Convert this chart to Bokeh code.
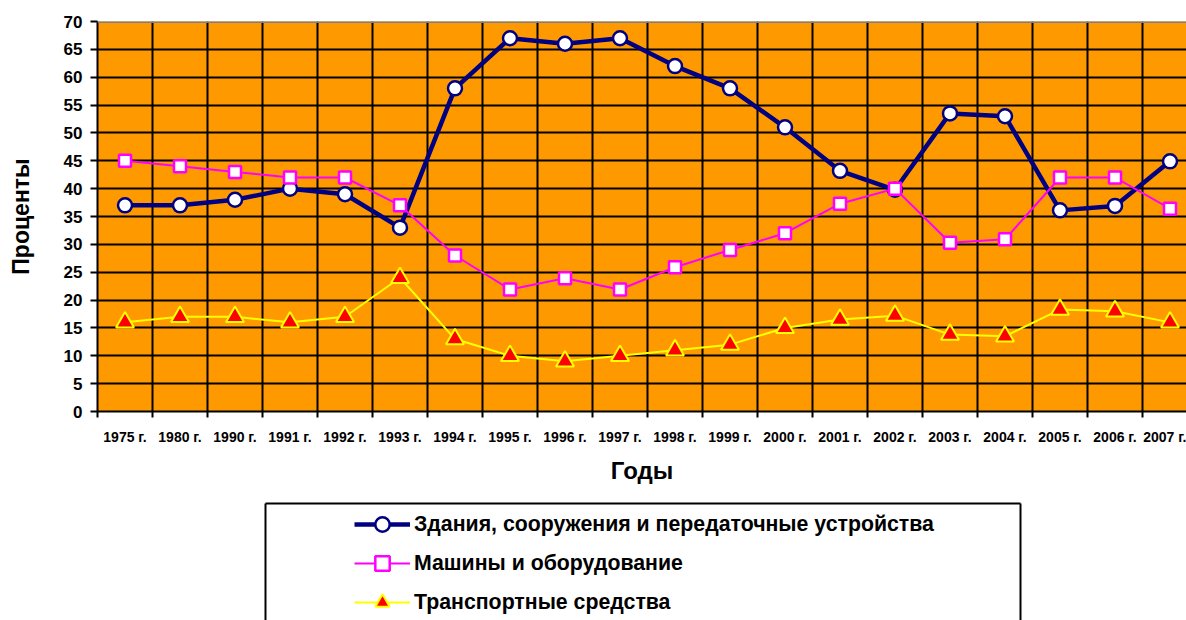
from bokeh.plotting import figure
from bokeh.models import (Range1d, FixedTicker, Legend, LegendItem, Span, LinearAxis)
from bokeh.layouts import column
from bokeh.embed import file_html
from bokeh.resources import INLINE

years = ["1975 г.", "1980 г.", "1990 г.", "1991 г.", "1992 г.", "1993 г.", "1994 г.",
         "1995 г.", "1996 г.", "1997 г.", "1998 г.", "1999 г.", "2000 г.", "2001 г.",
         "2002 г.", "2003 г.", "2004 г.", "2005 г.", "2006 г.", "2007 г."]

buildings = [37, 37, 38, 40, 39, 33, 58, 67, 66, 67, 62, 58, 51, 43.2, 39.8, 53.5, 53, 36.1, 36.9, 44.9]
machinery = [45, 44, 43, 42, 42, 37, 28, 21.9, 23.9, 21.9, 25.9, 29, 32, 37.3, 40, 30.3, 30.9, 42, 42, 36.4]
transport = [16, 17, 17, 16, 17, 24, 13, 10, 9, 10, 11, 12, 15, 16.5, 17.2, 13.8, 13.5, 18.3, 18, 16]

names = ["Здания, сооружения и передаточные устройства",
         "Машины и оборудование",
         "Транспортные средства"]

y_ticks = list(range(0, 75, 5))

FONT = "Liberation Sans"
W = 1186
idx = list(range(len(years)))
bounds = [i - 0.5 for i in range(len(years) + 1)]

styles = [
    dict(line=dict(line_color="#000080", line_width=4.5),
         marker=dict(marker="circle", size=14, fill_color="white", line_color="#000080", line_width=2.5)),
    dict(line=dict(line_color="#FF00FF", line_width=2),
         marker=dict(marker="square", size=12, fill_color="white", line_color="#FF00FF", line_width=2.5)),
    dict(line=dict(line_color="#FFFF00", line_width=2),
         marker=dict(marker="triangle", size=18, fill_color="#FF0000", line_color="#FFFF00", line_width=2)),
]
series = [buildings, machinery, transport]

p = figure(width=W, height=500, output_backend="svg", toolbar_location=None,
           x_range=Range1d(-0.5, -0.5 + (W - 97) / 55.0), y_range=Range1d(0, 70),
           min_border_left=97, min_border_right=0, min_border_top=21, min_border_bottom=89)
p.frame_align = False
p.background_fill_color = "#FF9900"
p.border_fill_color = "white"
p.outline_line_color = None

# x axis
p.xaxis.ticker = FixedTicker(ticks=idx, minor_ticks=bounds)
p.xaxis.major_label_overrides = {i: years[i] for i in idx}
p.xaxis.major_tick_line_color = None
p.xaxis.major_tick_out = 0
p.xaxis.major_tick_in = 0
p.xaxis.minor_tick_line_color = "black"
p.xaxis.minor_tick_line_width = 2
p.xaxis.minor_tick_out = 6
p.xaxis.minor_tick_in = 0
p.xaxis.axis_line_color = "black"
p.xaxis.axis_line_width = 2
p.xaxis.major_label_text_font = FONT
p.xaxis.major_label_text_font_style = "bold"
p.xaxis.major_label_text_font_size = "14px"
p.xaxis.major_label_text_color = "black"
p.xaxis.major_label_standoff = 11
p.xaxis.axis_label = "Годы"
p.xaxis.axis_label_text_font = FONT
p.xaxis.axis_label_text_font_style = "bold"
p.xaxis.axis_label_text_font_size = "24px"
p.xaxis.axis_label_text_color = "black"
p.xaxis.axis_label_standoff = 9

p.xgrid.grid_line_color = None
p.xgrid.minor_grid_line_color = "black"
p.xgrid.minor_grid_line_width = 2

# y axis
p.yaxis.ticker = FixedTicker(ticks=y_ticks)
p.yaxis.major_tick_out = 7
p.yaxis.major_tick_in = 0
p.yaxis.major_tick_line_color = "black"
p.yaxis.major_tick_line_width = 2
p.yaxis.minor_tick_line_color = None
p.yaxis.axis_line_color = "black"
p.yaxis.axis_line_width = 2
p.yaxis.major_label_text_font = FONT
p.yaxis.major_label_text_font_style = "bold"
p.yaxis.major_label_text_font_size = "17px"
p.yaxis.major_label_text_color = "black"
p.yaxis.major_label_standoff = 8
p.yaxis.axis_label = "Проценты"
p.yaxis.axis_label_text_font = FONT
p.yaxis.axis_label_text_font_style = "bold"
p.yaxis.axis_label_text_font_size = "23px"
p.yaxis.axis_label_text_color = "black"
p.yaxis.axis_label_standoff = 27

p.ygrid.grid_line_color = "black"
p.ygrid.grid_line_width = 2

p.add_layout(Span(location=70, dimension="width", line_color="#808080", line_width=3))

for vals, st in zip(series, styles):
    p.line(idx, vals, **st["line"])
    p.scatter(idx, vals, **st["marker"])

# legend panel: its frame edges form the legend box (bottom edge falls off the page)
p2 = figure(width=W, height=120, output_backend="svg", toolbar_location=None,
            x_range=Range1d(-100, -99), y_range=Range1d(-100, -99),
            x_axis_location="above",
            min_border_left=265, min_border_right=W - 1020, min_border_top=3, min_border_bottom=0)
p2.frame_align = False
p2.outline_line_color = None
p2.grid.grid_line_color = None
p2.add_layout(LinearAxis(), "right")
for ax in p2.axis:
    ax.ticker = FixedTicker(ticks=[])
    ax.major_tick_line_color = None
    ax.minor_tick_line_color = None
    ax.axis_line_color = "black"
    ax.axis_line_width = 2

items = []
for vals, st, name in zip(series, styles, names):
    lr = p2.line(idx, vals, **st["line"])
    sr = p2.scatter(idx, vals, **st["marker"])
    items.append(LegendItem(label=name, renderers=[lr, sr]))

legend = Legend(items=items, location=(89, 0), padding=0, margin=0,
                border_line_alpha=0, background_fill_alpha=0,
                glyph_width=56, glyph_height=36, label_height=36, spacing=3,
                label_standoff=4, label_text_font=FONT, label_text_font_style="bold",
                label_text_font_size="21.3px", label_text_color="black")
p2.add_layout(legend, "center")

layout = column(p, p2, spacing=0)
open("out.html", "w").write(file_html(layout, INLINE))
